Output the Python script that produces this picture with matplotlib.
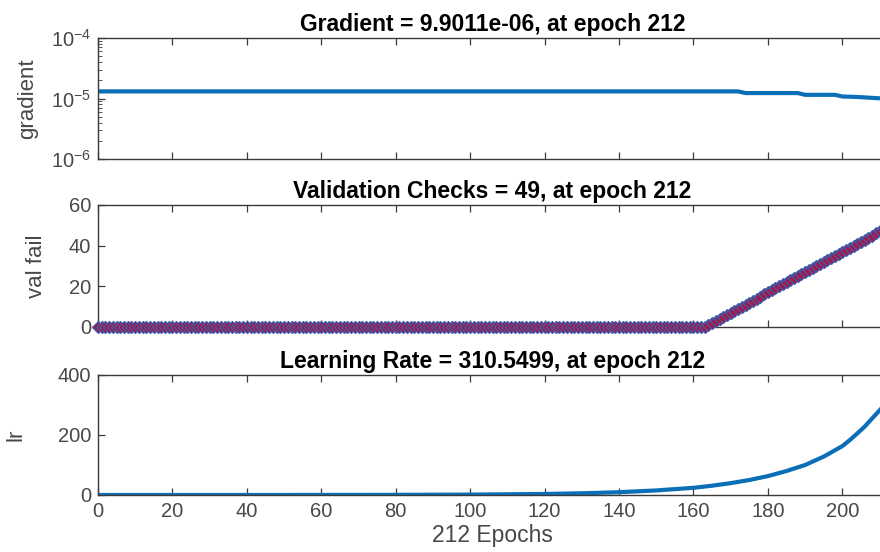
import numpy as np
import matplotlib
matplotlib.use('Agg')
import matplotlib.pyplot as plt
from matplotlib.ticker import LogLocator, NullFormatter

plt.rcParams['font.family'] 		= ['Liberation Sans', 'DejaVu Sans']
plt.rcParams['mathtext.fontset'] 	= 'custom'
plt.rcParams['mathtext.rm'] 		= 'Liberation Sans'
plt.rcParams['mathtext.it'] 		= 'Liberation Sans'

# values
n_epochs	= 212
grad_epoch 	= [0, 172, 174, 188, 190, 198, 200, 204, 212]
grad_value 	= [1.31e-5, 1.31e-5, 1.23e-5, 1.23e-5, 1.15e-5, 1.15e-5, 1.08e-5, 1.06e-5, 9.9011e-6]
val_fail 	= [0]*164 + list(range(1, 50))
lr_epoch 	= [0, 20, 40, 60, 80, 100, 120, 130, 140, 150, 160, 165, 170, 175, 180, 185, 190, 195, 200, 202, 204, 206, 208, 210, 212]
lr_value 	= [0.01, 0.03, 0.07, 0.19, 0.5, 1.3, 3.5, 5.7, 9.3, 15.2, 24.0, 31.0, 39.5, 50.0, 63.0, 80.0, 100.0, 128.0, 163.0, 183.0, 205.0, 228.0, 255.0, 282.0, 310.5499]
titles 		= ['Gradient = 9.9011e-06, at epoch 212',
			   'Validation Checks = 49, at epoch 212',
			   'Learning Rate = 310.5499, at epoch 212']
ylabels 	= ['gradient', 'val fail', 'lr']
ylab_x 		= [-0.076, -0.065, -0.090]
xticks 		= list(range(0, 201, 20))

blue 	= '#0b6fb8'
axcol 	= '#3a3a3a'
txtcol 	= '#484848'

fig = plt.figure(figsize=(8.8, 5.52), dpi=100)
left, width = 98/880., 789/880.
ax1 = fig.add_axes([left, 1-159/552., width, 121/552.])
ax2 = fig.add_axes([left, 1-327/552., width, 122/552.])
ax3 = fig.add_axes([left, 1-495/552., width, 120/552.])

for ax,t,yl,lx in zip([ax1,ax2,ax3],titles,ylabels,ylab_x):
	ax.set_xlim(0, n_epochs)
	ax.set_xticks(xticks)
	ax.tick_params(direction='in', length=5, width=0.9, colors=axcol, labelsize=14.5,
				   top=True, right=True, labelcolor=txtcol, pad=5)
	for s in ax.spines.values():
		s.set_color(axcol); s.set_linewidth(1.0)
	ax.set_title(t, fontsize=16.5, fontweight='bold', pad=5)
	ax.set_ylabel(yl, fontsize=16, color=txtcol)
	ax.yaxis.set_label_coords(lx, 0.5)

# gradient
ax1.semilogy(grad_epoch, grad_value, color=blue, lw=3)
ax1.set_ylim(1e-6, 1e-4)
ax1.yaxis.set_major_locator(LogLocator(base=10, numticks=5))
ax1.yaxis.set_minor_locator(LogLocator(base=10, subs=np.arange(2,10), numticks=20))
ax1.yaxis.set_minor_formatter(NullFormatter())
ax1.tick_params(which='minor', direction='in', length=3, colors=axcol, right=True)
ax1.set_xticklabels([])

# validation checks
ax2.plot(range(n_epochs+1), val_fail, color=blue, lw=2.5, marker='D', markersize=6.5,
		 markerfacecolor='#a5164a', markeredgecolor='#3a5fae', markeredgewidth=0.9, clip_on=False, zorder=3)
ax2.set_ylim(0, 60)
ax2.set_yticks([0, 20, 40, 60])
ax2.set_xticklabels([])

# learning rate
ax3.plot(lr_epoch, lr_value, color=blue, lw=3)
ax3.set_ylim(0, 400)
ax3.set_yticks([0, 200, 400])
ax3.set_xlabel('212 Epochs', fontsize=16.5, color=txtcol, labelpad=2)

fig.savefig('out.png', dpi=100)
